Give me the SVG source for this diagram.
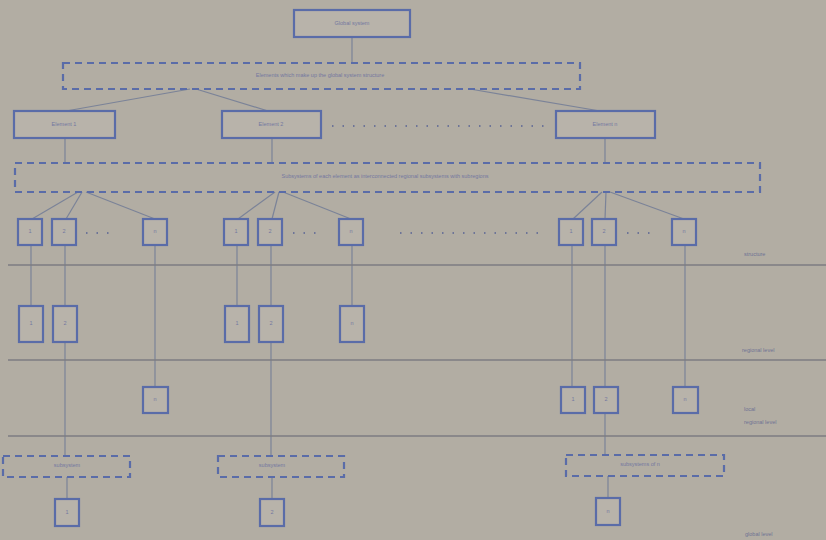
<svg xmlns="http://www.w3.org/2000/svg" width="826" height="540" viewBox="0 0 826 540">
<style>
.bg{fill:#b2ada3}
.box{fill:#b8b3aa;stroke:#5a6ca8;stroke-width:2.2}
.dbox{fill:none;stroke:#5a6ca8;stroke-width:2.2;stroke-dasharray:7 5}
.ln{stroke:#7b8398;stroke-width:1.2;fill:none}
.hl{stroke:#7d7d82;stroke-width:1.4}
.dot{stroke:#6d7497;stroke-width:1.8;stroke-dasharray:1.5 9;fill:none}
text{font-family:"Liberation Sans",Arial,sans-serif;font-size:5.5px;fill:#7478a0;text-anchor:middle;dominant-baseline:middle}
.lv{text-anchor:start;fill:#6f7394}
</style>
<rect class="bg" width="826" height="540"/>
<g id="connectors">
<line class="ln" x1="352" y1="37" x2="352" y2="63"/>
<line class="ln" x1="190" y1="89" x2="66" y2="111"/>
<line class="ln" x1="196" y1="89" x2="268" y2="111"/>
<line class="ln" x1="470" y1="89" x2="600" y2="111"/>
<line class="ln" x1="65" y1="138" x2="65" y2="163"/>
<line class="ln" x1="272" y1="138" x2="272" y2="163"/>
<line class="ln" x1="605" y1="138" x2="605" y2="163"/>
<line class="ln" x1="78" y1="192" x2="32" y2="219"/>
<line class="ln" x1="82" y1="192" x2="66" y2="219"/>
<line class="ln" x1="86" y1="192" x2="155" y2="219"/>
<line class="ln" x1="275" y1="192" x2="238" y2="219"/>
<line class="ln" x1="279" y1="192" x2="272" y2="219"/>
<line class="ln" x1="283" y1="192" x2="351" y2="219"/>
<line class="ln" x1="602" y1="192" x2="573" y2="219"/>
<line class="ln" x1="606" y1="192" x2="605" y2="219"/>
<line class="ln" x1="610" y1="192" x2="684" y2="219"/>
<line class="ln" x1="31" y1="245" x2="31" y2="306"/>
<line class="ln" x1="65" y1="245" x2="65" y2="306"/>
<line class="ln" x1="65" y1="342" x2="65" y2="456"/>
<line class="ln" x1="155" y1="245" x2="155" y2="387"/>
<line class="ln" x1="237" y1="245" x2="237" y2="306"/>
<line class="ln" x1="271" y1="245" x2="271" y2="306"/>
<line class="ln" x1="271" y1="342" x2="271" y2="456"/>
<line class="ln" x1="352" y1="245" x2="352" y2="306"/>
<line class="ln" x1="572" y1="245" x2="572" y2="387"/>
<line class="ln" x1="605" y1="245" x2="605" y2="387"/>
<line class="ln" x1="605" y1="413" x2="605" y2="456"/>
<line class="ln" x1="685" y1="245" x2="685" y2="387"/>
<line class="ln" x1="67" y1="477" x2="67" y2="498"/>
<line class="ln" x1="272" y1="477" x2="272" y2="498"/>
<line class="ln" x1="608" y1="476" x2="608" y2="498"/>
<line class="hl" x1="8" y1="265" x2="826" y2="265"/>
<line class="hl" x1="8" y1="360" x2="826" y2="360"/>
<line class="hl" x1="8" y1="436" x2="826" y2="436"/>
<line class="dot" x1="332" y1="126" x2="545" y2="126"/>
<line class="dot" x1="86" y1="233" x2="112" y2="233"/>
<line class="dot" x1="293" y1="233" x2="318" y2="233"/>
<line class="dot" x1="627" y1="233" x2="652" y2="233"/>
<line class="dot" x1="400" y1="233" x2="542" y2="233"/>
</g>
<g id="n-top"><rect class="box" x="294" y="10" width="116" height="27"/><text x="352" y="24">Global system</text></g>
<g id="n-elements"><rect class="dbox" x="63" y="63" width="517" height="26"/><text x="320" y="76">Elements which make up the global system structure</text></g>
<g id="n-e1"><rect class="box" x="14" y="111" width="101" height="27"/><text x="64" y="125">Element 1</text></g>
<g id="n-e2"><rect class="box" x="222" y="111" width="99" height="27"/><text x="271" y="125">Element 2</text></g>
<g id="n-en"><rect class="box" x="556" y="111" width="99" height="27"/><text x="605" y="125">Element n</text></g>
<g id="n-sub"><rect class="dbox" x="15" y="163" width="745" height="29"/><text x="385" y="177">Subsystems of each element as interconnected regional subsystems with subregions</text></g>
<g id="n-a1"><rect class="box" x="18" y="219" width="24" height="26"/><text x="30" y="232">1</text></g>
<g id="n-a2"><rect class="box" x="52" y="219" width="24" height="26"/><text x="64" y="232">2</text></g>
<g id="n-a3"><rect class="box" x="143" y="219" width="24" height="26"/><text x="155" y="232">n</text></g>
<g id="n-b1"><rect class="box" x="224" y="219" width="24" height="26"/><text x="236" y="232">1</text></g>
<g id="n-b2"><rect class="box" x="258" y="219" width="24" height="26"/><text x="270" y="232">2</text></g>
<g id="n-b3"><rect class="box" x="339" y="219" width="24" height="26"/><text x="351" y="232">n</text></g>
<g id="n-c1"><rect class="box" x="559" y="219" width="24" height="26"/><text x="571" y="232">1</text></g>
<g id="n-c2"><rect class="box" x="592" y="219" width="24" height="26"/><text x="604" y="232">2</text></g>
<g id="n-c3"><rect class="box" x="672" y="219" width="24" height="26"/><text x="684" y="232">n</text></g>
<g id="n-r1"><rect class="box" x="19" y="306" width="24" height="36"/><text x="31" y="324">1</text></g>
<g id="n-r2"><rect class="box" x="53" y="306" width="24" height="36"/><text x="65" y="324">2</text></g>
<g id="n-r3"><rect class="box" x="225" y="306" width="24" height="36"/><text x="237" y="324">1</text></g>
<g id="n-r4"><rect class="box" x="259" y="306" width="24" height="36"/><text x="271" y="324">2</text></g>
<g id="n-r5"><rect class="box" x="340" y="306" width="24" height="36"/><text x="352" y="324">n</text></g>
<g id="n-s1"><rect class="box" x="143" y="387" width="25" height="26"/><text x="155" y="400">n</text></g>
<g id="n-s2"><rect class="box" x="561" y="387" width="24" height="26"/><text x="573" y="400">1</text></g>
<g id="n-s3"><rect class="box" x="594" y="387" width="24" height="26"/><text x="606" y="400">2</text></g>
<g id="n-s4"><rect class="box" x="673" y="387" width="25" height="26"/><text x="685" y="400">n</text></g>
<g id="n-d1"><rect class="dbox" x="3" y="456" width="127" height="21"/><text x="67" y="466">subsystem</text></g>
<g id="n-d2"><rect class="dbox" x="218" y="456" width="126" height="21"/><text x="272" y="466">subsystem</text></g>
<g id="n-d3"><rect class="dbox" x="566" y="455" width="158" height="21"/><text x="640" y="465">subsystems of n</text></g>
<g id="n-f1"><rect class="box" x="55" y="499" width="24" height="27"/><text x="67" y="513">1</text></g>
<g id="n-f2"><rect class="box" x="260" y="499" width="24" height="27"/><text x="272" y="513">2</text></g>
<g id="n-f3"><rect class="box" x="596" y="498" width="24" height="27"/><text x="608" y="512">n</text></g>
<g id="levels">
<text class="lv" x="744" y="255">structure</text>
<text class="lv" x="742" y="351">regional level</text>
<text class="lv" x="744" y="410">local</text>
<text class="lv" x="744" y="423">regional level</text>
<text class="lv" x="745" y="535">global level</text>
</g>
</svg>
